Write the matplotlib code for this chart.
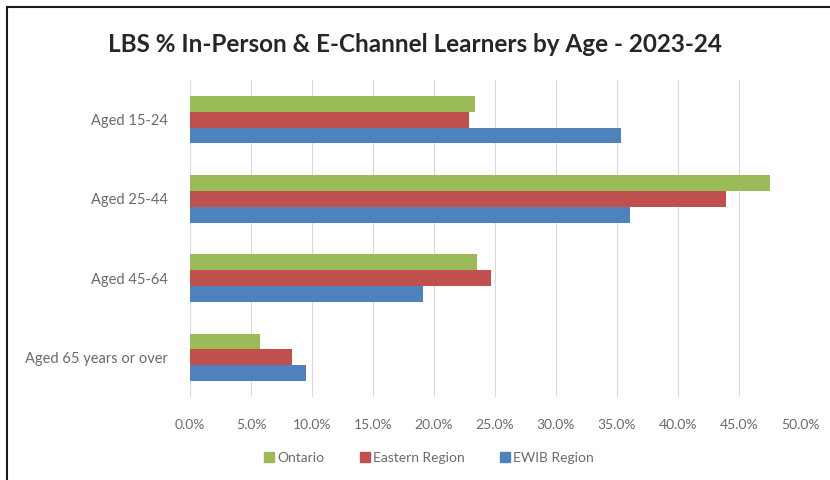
import numpy as np
import matplotlib.pyplot as plt
from matplotlib.lines import Line2D
from matplotlib.ticker import FuncFormatter

# LBS learners by age, share of in-person and e-channel learners (%)
age_groups = ["Aged 15-24", "Aged 25-44", "Aged 45-64", "Aged 65 years or over"]
series_names = ["Ontario", "Eastern Region", "EWIB Region"]
ontario = [23.4, 47.5, 23.5, 5.7]
eastern = [22.9, 43.9, 24.7, 8.4]
ewib = [35.3, 36.1, 19.1, 9.5]
colors = ["#9BBB59", "#C0504D", "#4F81BD"]

plt.rcParams["font.family"] = ["Lato", "DejaVu Sans"]

fig = plt.figure(figsize=(8.3, 4.8), dpi=100)
ax = fig.add_axes([190 / 830, 1 - 397 / 480, 610 / 830, 317 / 480])

y = np.arange(len(age_groups))
bar_h = 0.2
for i, (vals, name, c) in enumerate(zip([ontario, eastern, ewib], series_names, colors)):
    ax.barh(y + (i - 1) * bar_h, vals, height=bar_h, color=c, label=name, zorder=3)

ax.set_xlim(0, 50)
ax.set_ylim(len(age_groups) - 0.5, -0.5)
ax.set_xticks(np.arange(0, 51, 5))
ax.xaxis.set_major_formatter(FuncFormatter(lambda v, p: f"{v:.1f}%"))
ax.set_yticks(y)
ax.set_yticklabels(age_groups)
ax.tick_params(axis="both", length=0, colors="#6b6b6b")
ax.tick_params(axis="x", pad=16, labelsize=10)
ax.tick_params(axis="y", pad=16, labelsize=10.5)
ax.grid(axis="x", color="#D9D9D9", linewidth=0.8, zorder=0)
for s in ax.spines.values():
    s.set_visible(False)

fig.text(0.5, 1 - 45 / 480, "LBS % In-Person & E-Channel Learners by Age - 2023-24",
         ha="center", va="center", fontsize=17.5, fontweight="bold", color="#262626")

handles = [Line2D([], [], marker="s", linestyle="none", markersize=6.5, color=c) for c in colors]
fig.legend(handles, series_names, loc="center", bbox_to_anchor=(428 / 830, 1 - 458 / 480),
           ncol=3, frameon=False, fontsize=10, labelcolor="#6b6b6b",
           handletextpad=0.1, columnspacing=2.4, handlelength=1.0)

# frame along the top and left edges
fig.add_artist(Line2D([7 / 830, 1], [1 - 7 / 480, 1 - 7 / 480], color="#1a1a1a", linewidth=1.5,
                      transform=fig.transFigure))
fig.add_artist(Line2D([7 / 830, 7 / 830], [0, 1 - 7 / 480], color="#1a1a1a", linewidth=1.5,
                      transform=fig.transFigure))

fig.savefig("out.png", dpi=100)
